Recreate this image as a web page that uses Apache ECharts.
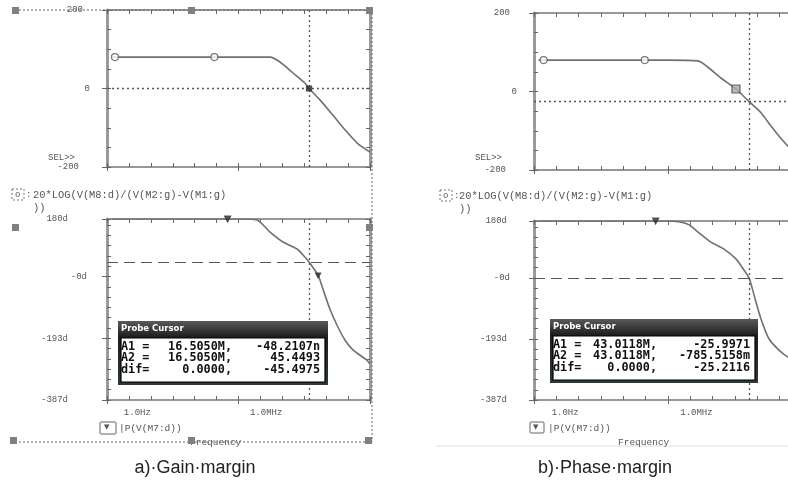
<!DOCTYPE html>
<html>
<head>
<meta charset="utf-8">
<script src="https://cdn.jsdelivr.net/npm/echarts@6/dist/echarts.min.js"></script>
<style>
html,body{margin:0;padding:0;background:#fff;}
#chart{width:788px;height:492px;}
</style>
</head>
<body>
<div id="chart"></div>
<script>
// frequencies in Hz
var gainAFreq = [0.017, 1e5, 2.75e5, 7.8e5, 3.1e6, 1.07e7, 1.6505e7, 5.2e7, 2.0e8, 8.9e8, 2.6e9, 7.2e9, 1e10];
var gainADb   = [80, 80, 80, 67.5, 39.5, 14, 0, -29, -67.5, -111, -139, -157, -162];
var phaseAFreq = [0.017, 1.2e4, 6.9e4, 2.75e5, 1.07e6, 4.7e6, 1.07e7, 1.6505e7, 3.8e7, 4.6e7, 7.1e7, 1.48e8, 3.1e8, 7.2e8, 1.66e9, 7.2e9, 1e10];
var phaseADeg  = [180, 180, 177, 139, 108, 86, 61, 45.45, 10, 0, -39, -102, -152, -199, -230, -262, -274];
var gainBFreq = [0.016, 1e4, 2.2e5, 6e5, 2.35e6, 1.1e7, 4.30118e7, 1.45e8, 4.1e8, 1.15e9, 2.35e9, 1e10];
var gainBDb   = [80, 80, 78, 62.4, 34.4, 6.4, -26, -54, -88, -120, -139, -170];
var phaseBFreq = [0.016, 9.8e3, 7.8e4, 2.2e5, 8.3e5, 3.2e6, 1.1e7, 2.5e7, 4.30118e7, 7.1e7, 1.45e8, 3.3e8, 9.3e8, 2.35e9, 1e10];
var phaseBDeg  = [180, 180, 170, 145, 113, 91, 60, 25, -0.79, -54, -130, -193, -229, -251, -275];

// trace markers
var gainACircles = [[0.023, 80], [794, 80]];
var gainASquare  = [[1.6505e7, 0]];
var phaseATri    = [[3.2e3, 180]];
var phaseADot    = [[4.3e7, 3]];
var gainBCircles = [[0.027, 80], [912, 80]];
var gainBSquare  = [[1.1e7, 6.4]];
var phaseBTri    = [[2.8e3, 180]];

// cursors
var cursorA = 1.6505e7, cursorB = 4.30118e7;
var levelGainA = 0, levelPhaseA = 45.4493, levelGainB = -25.9971, levelPhaseB = -0.7855;

var probeA = [['A1 =', '16.5050M,', '-48.2107n'], ['A2 =', '16.5050M,', '45.4493'], ['dif=', '0.0000,', '-45.4975']];
var probeB = [['A1 =', '43.0118M,', '-25.9971'], ['A2 =', '43.0118M,', '-785.5158m'], ['dif=', '0.0000,', '-25.2116']];

var MONO = 'Liberation Mono';
var AX = '#777', BORDER = '#9a9a9a', TRACE = '#707070';

function lf(f){ return Math.log10(f); }
function pts(freq, vals){ return freq.map(function(f, i){ return [lf(f), vals[i]]; }); }
function mpts(list){ return list.map(function(p){ return [lf(p[0]), p[1]]; }); }

function xAxes(g, labels){
    return [
        {gridIndex:g, type:'value', min:-2, max:10, interval:1, position:'bottom',
         axisLine:{onZero:false, lineStyle:{color:AX, width:1.5}},
         axisTick:{inside:true, length:4, lineStyle:{color:'#666'}},
         axisLabel:{show:labels, margin:8, align:'right', fontFamily:MONO, fontSize:9, color:'#555',
            formatter:function(v){ return v === 0 ? '1.0Hz' : (v === 6 ? '1.0MHz' : ''); }},
         splitLine:{show:false}},
        {gridIndex:g, type:'value', min:-2, max:10, interval:1, position:'top',
         axisLine:{onZero:false, lineStyle:{color:AX, width:1.5}},
         axisTick:{inside:true, length:4, lineStyle:{color:'#666'}},
         axisLabel:{show:false}, splitLine:{show:false}},
        // longer decade marks at 1Hz / 1MHz
        {gridIndex:g, type:'value', min:-2, max:10, interval:6, position:'bottom',
         axisLine:{show:false, onZero:false}, axisTick:{inside:false, length:4, lineStyle:{color:'#666'}},
         axisLabel:{show:false}, splitLine:{show:false}}
    ];
}

function gainY(g){
    var fmt = function(v){
        if (v === 200) return '{a|200}';
        if (v === 0) return '{b|0}';
        if (v === -200) return '{c|-200}';
        return '';
    };
    var lab = {fontFamily:MONO, fontSize:9, color:'#555'};
    return [
        {gridIndex:g, type:'value', min:-200, max:200, interval:50, position:'left',
         axisLine:{onZero:false, lineStyle:{color:BORDER, width:3}},
         axisTick:{inside:true, length:4, lineStyle:{color:'#666'}},
         axisLabel:{margin:17, fontFamily:MONO, fontSize:9, color:'#555', showMinLabel:true, showMaxLabel:true, formatter:fmt,
            rich:{a:Object.assign({padding:[0,7,0,0]}, lab), b:lab, c:Object.assign({padding:[0,11,0,0]}, lab)}},
         splitLine:{show:false}},
        {gridIndex:g, type:'value', min:-200, max:200, interval:50, position:'right',
         axisLine:{onZero:false, lineStyle:{color:BORDER, width:3}},
         axisTick:{inside:true, length:4, lineStyle:{color:'#666'}},
         axisLabel:{show:false}, splitLine:{show:false}},
        {gridIndex:g, type:'value', min:-200, max:200, interval:200, position:'left',
         axisLine:{show:false, onZero:false}, axisTick:{inside:false, length:5, lineStyle:{color:'#666'}},
         axisLabel:{show:false}, splitLine:{show:false}}
    ];
}

function phaseY(g, margin, pad){
    var lab = {fontFamily:MONO, fontSize:9, color:'#555'};
    var fmt = function(v){
        if (Math.abs(v - 180) < 0.1) return '{p|180d}';
        if (Math.abs(v) < 0.1) return '{z|-0d}';
        if (Math.abs(v + 193.5) < 0.1) return '{p|-193d}';
        if (Math.abs(v + 387) < 0.1) return '{p|-387d}';
        return '';
    };
    return [
        {gridIndex:g, type:'value', min:-387, max:180, interval:32.25, position:'left',
         axisLine:{onZero:false, lineStyle:{color:BORDER, width:3}},
         axisTick:{inside:true, length:4, lineStyle:{color:'#666'}},
         axisLabel:{margin:margin, fontFamily:MONO, fontSize:9, color:'#555', showMinLabel:true, showMaxLabel:true, formatter:fmt,
            rich:{p:Object.assign({padding:[0,pad,0,0]}, lab), z:lab}},
         splitLine:{show:false}},
        {gridIndex:g, type:'value', min:-387, max:180, interval:32.25, position:'right',
         axisLine:{onZero:false, lineStyle:{color:BORDER, width:3}},
         axisTick:{inside:true, length:4, lineStyle:{color:'#666'}},
         axisLabel:{show:false}, splitLine:{show:false}},
        {gridIndex:g, type:'value', min:-387, max:180, interval:193.5, position:'left',
         axisLine:{show:false, onZero:false}, axisTick:{inside:false, length:5, lineStyle:{color:'#666'}},
         axisLabel:{show:false}, splitLine:{show:false}}
    ];
}

function trace(g, data, cursor, level, dashed){
    return {
        type:'line', xAxisIndex:3 * g, yAxisIndex:3 * g, data:data,
        showSymbol:false, smooth:0.25, silent:true,
        lineStyle:{color:TRACE, width:1.6},
        markLine:{silent:true, symbol:'none', label:{show:false}, animation:false,
            data:[
                {xAxis:lf(cursor), lineStyle:{type:[2, 3], color:'#555', width:1.3}},
                {yAxis:level, lineStyle:dashed ? {type:[11, 6], color:'#555', width:1.2} : {type:[2, 3], color:'#555', width:1.3}}
            ]}
    };
}

function marks(g, data, symbol, size, fill, stroke, rotate){
    return {
        type:'scatter', xAxisIndex:3 * g, yAxisIndex:3 * g, data:mpts(data), silent:true,
        symbol:symbol, symbolSize:size, symbolRotate:rotate || 0, z:5,
        itemStyle:{color:fill, borderColor:stroke, borderWidth:1.2}
    };
}

var T = function(x, y, text, style){
    return {type:'text', x:x, y:y, silent:true, z:10,
        style:Object.assign({text:text, fontFamily:MONO, fontSize:9, fill:'#555'}, style || {})};
};

function handle(x, y){
    return {type:'rect', shape:{x:x, y:y, width:7, height:7}, style:{fill:'#808080'}, silent:true, z:12};
}

function probeBox(x, y, w, rows, c1, c2, c3){
    var els = [
        {type:'rect', z:30, shape:{x:0, y:0, width:w, height:64},
         style:{fill:new echarts.graphic.LinearGradient(0, 0, 0, 1, [{offset:0, color:'#5a5a5a'}, {offset:0.25, color:'#1e1e1e'}, {offset:1, color:'#2e3a34'}])}},
        {type:'text', z:31, x:3, y:3, style:{text:'Probe Cursor', fontFamily:'DejaVu Sans', fontWeight:'bold', fontSize:8.5, fill:'#fff'}},
        {type:'rect', z:31, shape:{x:3, y:17, width:w - 6, height:44}, style:{fill:'#fff', stroke:'#000', lineWidth:1.2}}
    ];
    rows.forEach(function(r, i){
        var yy = 19.5 + i * 11.8;
        var st = {fontFamily:'DejaVu Sans Mono', fontWeight:'bold', fontSize:11.8, fill:'#111'};
        els.push({type:'text', z:32, x:c1, y:yy, style:Object.assign({text:r[0]}, st)});
        els.push({type:'text', z:32, x:c2, y:yy, style:Object.assign({text:r[1], align:'right'}, st)});
        els.push({type:'text', z:32, x:c3, y:yy, style:Object.assign({text:r[2], align:'right'}, st)});
    });
    return {type:'group', x:x, y:y, z:30, silent:true, children:els};
}

function legendBox(x, y){
    return {type:'rect', shape:{x:x, y:y, width:12, height:11}, silent:true, z:10,
        style:{fill:'none', stroke:'#777', lineWidth:1, lineDash:[2, 2]}};
}

var myChart = echarts.init(document.getElementById('chart'));

var grids = [
    {left:107, top:10, width:263, height:157},
    {left:107, top:219, width:263, height:181},
    {left:534, top:13, width:268, height:157},
    {left:534, top:221, width:268, height:179}
];
grids.forEach(function(g){ g.outerBoundsMode = 'none'; g.containLabel = false; });

option = {
    animation:false,
    backgroundColor:'#fff',
    grid:grids,
    xAxis:[].concat(xAxes(0, false), xAxes(1, true), xAxes(2, false), xAxes(3, true)),
    yAxis:[].concat(gainY(0), phaseY(1, 20, 19), gainY(2), phaseY(3, 24, 3)),
    series:[
        trace(0, pts(gainAFreq, gainADb), cursorA, levelGainA, false),
        trace(1, pts(phaseAFreq, phaseADeg), cursorA, levelPhaseA, true),
        trace(2, pts(gainBFreq, gainBDb), cursorB, levelGainB, false),
        trace(3, pts(phaseBFreq, phaseBDeg), cursorB, levelPhaseB, true),
        marks(0, gainACircles, 'circle', 7, '#fff', '#555'),
        marks(0, gainASquare, 'rect', 5, '#333', '#333'),
        marks(1, phaseATri, 'triangle', 6, '#333', '#333', 180),
        marks(1, phaseADot, 'triangle', 5, '#333', '#333', 180),
        marks(2, gainBCircles, 'circle', 7, '#fff', '#555'),
        marks(2, gainBSquare, 'rect', 8, '#aaa', '#444'),
        marks(3, phaseBTri, 'triangle', 6, '#333', '#333', 180)
    ],
    graphic:[
        // panel a) selection frame
        {type:'polyline', silent:true, z:11, shape:{points:[[19, 10], [372, 10], [372, 442], [15, 442]]},
         style:{stroke:'#666', lineWidth:1, lineDash:[2, 2], fill:'none'}},
        handle(12, 7), handle(188, 7), handle(366, 7),
        handle(12, 224), handle(366, 224),
        handle(10, 437), handle(188, 437), handle(365, 437),
        // panel b) bottom rule
        {type:'line', silent:true, shape:{x1:436, y1:446, x2:788, y2:446}, style:{stroke:'#ddd', lineWidth:1}},

        T(48, 153, 'SEL>>'),
        T(475, 153, 'SEL>>'),

        legendBox(12, 189), T(15, 190, 'o'), T(26, 190, ':'),
        T(33, 190, '20*LOG(V(M8:d)/(V(M2:g)-V(M1:g)', {fontSize:10.4}),
        T(33, 203, '))', {fontSize:10.4}),
        legendBox(440, 190), T(443, 191, 'o'), T(454, 191, ':'),
        T(459, 191, '20*LOG(V(M8:d)/(V(M2:g)-V(M1:g)', {fontSize:10.4}),
        T(459, 204, '))', {fontSize:10.4}),

        {type:'rect', silent:true, z:10, shape:{x:100, y:422, width:16, height:12, r:1}, style:{fill:'#fff', stroke:'#666', lineWidth:1}},
        T(104, 424, '\u25BC', {fontSize:7, fill:'#555', fontFamily:'DejaVu Sans'}),
        T(119, 423, '|P(V(M7:d))', {fontSize:9.5}),
        T(190, 437, 'Frequency', {fontSize:9.5}),
        {type:'rect', silent:true, z:10, shape:{x:530, y:422, width:14, height:11, r:1}, style:{fill:'#fff', stroke:'#666', lineWidth:1}},
        T(533, 424, '\u25BC', {fontSize:7, fill:'#555', fontFamily:'DejaVu Sans'}),
        T(548, 423, '|P(V(M7:d))', {fontSize:9.5}),
        T(618, 437, 'Frequency', {fontSize:9.5}),

        probeBox(118, 321, 210, probeA, 3, 114, 202),
        probeBox(550, 319, 208, probeB, 3, 107, 200),

        T(195, 468, 'a)\u00B7Gain\u00B7margin', {fontFamily:'Liberation Sans', fontSize:18, fill:'#222', align:'center', verticalAlign:'middle'}),
        T(605, 468, 'b)\u00B7Phase\u00B7margin', {fontFamily:'Liberation Sans', fontSize:18, fill:'#222', align:'center', verticalAlign:'middle'})
    ]
};

myChart.setOption(option);
</script>
</body>
</html>
